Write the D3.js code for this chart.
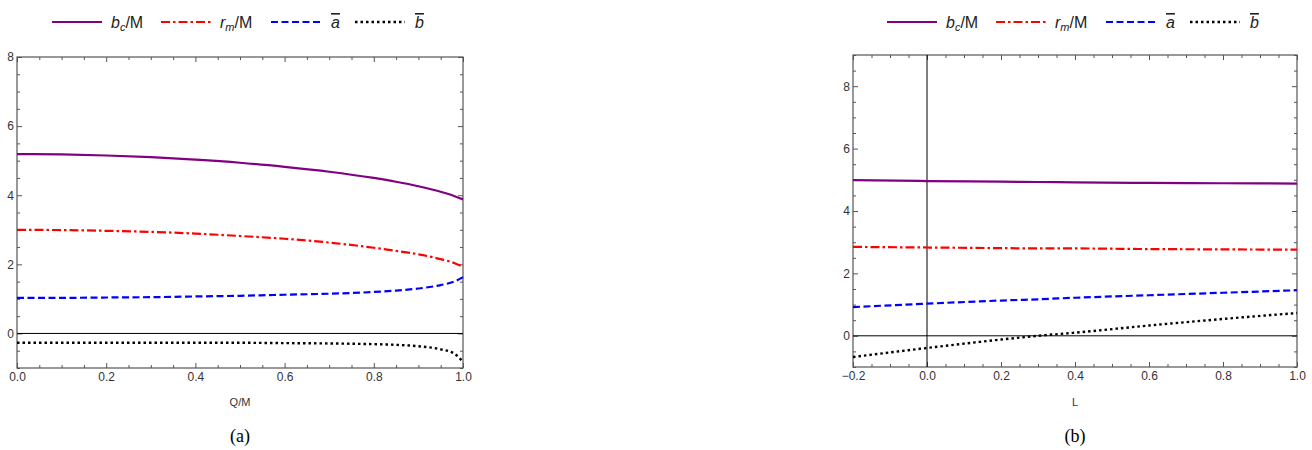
<!DOCTYPE html>
<html>
<head>
<meta charset="utf-8">
<script src="https://cdn.jsdelivr.net/npm/d3@7"></script>
<style>
  body { margin: 0; background: #fff; }
  svg text { font-family: "Liberation Sans", Arial, sans-serif; }
</style>
</head>
<body>
<div id="output"></div>
<script>
// panel (a): values against Q/M
var qVals = [0, 0.1, 0.2, 0.3, 0.4, 0.5, 0.6, 0.7, 0.8, 0.85, 0.9, 0.95, 0.98, 1.0];
var bcQ   = [5.19, 5.18, 5.15, 5.10, 5.03, 4.94, 4.82, 4.68, 4.50, 4.39, 4.26, 4.10, 3.98, 3.88];
var rmQ   = [3.00, 2.99, 2.97, 2.94, 2.89, 2.82, 2.74, 2.63, 2.48, 2.39, 2.29, 2.15, 2.04, 1.93];
var aQ    = [1.03, 1.03, 1.04, 1.05, 1.07, 1.09, 1.12, 1.15, 1.20, 1.24, 1.30, 1.40, 1.50, 1.63];
var bQ    = [-0.27, -0.27, -0.27, -0.27, -0.27, -0.27, -0.28, -0.29, -0.31, -0.33, -0.37, -0.46, -0.58, -0.82];

// panel (b): values against L
var lVals = [-0.2, 0, 0.2, 0.3, 0.4, 0.6, 0.8, 1.0];
var bcL   = [4.99, 4.96, 4.94, 4.93, 4.92, 4.90, 4.89, 4.88];
var rmL   = [2.85, 2.83, 2.81, 2.80, 2.80, 2.78, 2.77, 2.76];
var aL    = [0.92, 1.03, 1.13, 1.17, 1.22, 1.30, 1.38, 1.46];
var bL    = [-0.68, -0.39, -0.12, 0.0, 0.10, 0.33, 0.54, 0.73];

var xTicksA = [0, 0.2, 0.4, 0.6, 0.8, 1.0];
var yTicksA = [0, 2, 4, 6, 8];
var xTicksB = [-0.2, 0, 0.2, 0.4, 0.6, 0.8, 1.0];
var yTicksB = [0, 2, 4, 6, 8];

var w = 1312, h = 450;

var styles = [
    {key: "bc", color: "#800080", dash: null, width: 2.2},
    {key: "rm", color: "#ff0000", dash: "9,3,2.5,3", width: 2.2},
    {key: "a",  color: "#0000ff", dash: "7,3.5", width: 2.2},
    {key: "b",  color: "#000000", dash: "2.5,3", width: 2.4}
];

var svg = d3.select("#output").append("svg")
    .attr("width", w)
    .attr("height", h);

function range(a, b, s) {
    var out = [];
    for (var i = Math.round(a / s); i * s <= b + 1e-9; i++) out.push(+(i * s).toFixed(4));
    return out;
}

function panel(opt) {
    var x = d3.scaleLinear().domain(opt.xDomain).range(opt.xRange);
    var y = d3.scaleLinear().domain(opt.yDomain).range(opt.yRange);
    var g = svg.append("g");
    var fmt = d3.format(".1f");

    var x0 = opt.xRange[0], x1 = opt.xRange[1], y0 = opt.yRange[0], y1 = opt.yRange[1];
    var xMinor = range(opt.xDomain[0], opt.xDomain[1], 0.05).filter(function (v) {
        return opt.xTicks.every(function (t) { return Math.abs(t - v) > 1e-6; });
    });
    var yMinor = range(opt.yDomain[0], opt.yDomain[1], 0.5).filter(function (v) {
        return opt.yTicks.indexOf(v) < 0;
    });

    // axes (inward ticks) on all four sides
    var axes = [
        [d3.axisBottom(x).tickValues(opt.xTicks).tickSize(-5).tickPadding(4).tickFormat(fmt), "translate(0," + y0 + ")"],
        [d3.axisBottom(x).tickValues(xMinor).tickSize(-3).tickFormat(""), "translate(0," + y0 + ")"],
        [d3.axisTop(x).tickValues(opt.xTicks).tickSize(-5).tickFormat(""), "translate(0," + y1 + ")"],
        [d3.axisTop(x).tickValues(xMinor).tickSize(-3).tickFormat(""), "translate(0," + y1 + ")"],
        [d3.axisLeft(y).tickValues(opt.yTicks).tickSize(-5).tickPadding(3).tickFormat(d3.format("d")), "translate(" + x0 + ",0)"],
        [d3.axisLeft(y).tickValues(yMinor).tickSize(-3).tickFormat(""), "translate(" + x0 + ",0)"],
        [d3.axisRight(y).tickValues(opt.yTicks).tickSize(-5).tickFormat(""), "translate(" + x1 + ",0)"],
        [d3.axisRight(y).tickValues(yMinor).tickSize(-3).tickFormat(""), "translate(" + x1 + ",0)"]
    ];
    axes.forEach(function (a) {
        var ag = g.append("g").attr("transform", a[1]).call(a[0]);
        ag.select(".domain").remove();
        ag.selectAll("line").attr("stroke", "#555");
        ag.selectAll("text").attr("fill", "#333").style("font-size", "12px");
    });

    g.append("rect")
        .attr("x", x0).attr("y", y1)
        .attr("width", x1 - x0).attr("height", y0 - y1)
        .attr("fill", "none").attr("stroke", "#555").attr("stroke-width", 1.2);

    // zero lines
    g.append("line")
        .attr("x1", x0).attr("x2", x1)
        .attr("y1", y(0)).attr("y2", y(0))
        .attr("stroke", "#000").attr("stroke-width", 1);
    if (opt.xDomain[0] < 0) {
        g.append("line")
            .attr("x1", x(0)).attr("x2", x(0))
            .attr("y1", y0).attr("y2", y1)
            .attr("stroke", "#000").attr("stroke-width", 1);
    }

    var line = d3.line()
        .x(function (d) { return x(d[0]); })
        .y(function (d) { return y(d[1]); })
        .curve(d3.curveMonotoneX);

    styles.forEach(function (s, i) {
        var pts = opt.xs.map(function (v, j) { return [v, opt.series[i][j]]; });
        g.append("path")
            .datum(pts)
            .attr("d", line)
            .attr("fill", "none")
            .attr("stroke", s.color)
            .attr("stroke-width", s.width)
            .attr("stroke-dasharray", s.dash);
    });

    // axis label + caption
    var cx = (x0 + x1) / 2;
    g.append("text")
        .attr("x", cx).attr("y", 406)
        .attr("text-anchor", "middle")
        .attr("fill", "#333")
        .style("font-size", "11px")
        .text(opt.xLabel);
    g.append("text")
        .attr("x", cx).attr("y", 442)
        .attr("text-anchor", "middle")
        .style("font-family", "'Liberation Serif', 'DejaVu Serif', serif")
        .style("font-size", "18px")
        .text(opt.caption);

    // legend
    var lg = g.append("g").attr("transform", "translate(" + (cx - 188) + ",22)");
    var offs = [0, 109, 219, 303];
    var labels = [["b", "c", "/M"], ["r", "m", "/M"], ["a", null, null], ["b", null, null]];
    styles.forEach(function (s, i) {
        var it = lg.append("g").attr("transform", "translate(" + offs[i] + ",0)");
        it.append("line")
            .attr("x1", 0).attr("x2", 50)
            .attr("stroke", s.color)
            .attr("stroke-width", s.width)
            .attr("stroke-dasharray", s.dash);
        var t = it.append("text")
            .attr("x", i < 2 ? 59 : 60)
            .attr("y", 6)
            .attr("fill", "#222")
            .style("font-size", "16px");
        var main = t.append("tspan").style("font-style", "italic").text(labels[i][0]);
        if (labels[i][1]) {
            t.append("tspan").style("font-style", "italic").style("font-size", "11px")
                .attr("dy", 3).text(labels[i][1]);
            t.append("tspan").attr("dy", -3).text(labels[i][2]);
        } else {
            main.style("text-decoration", "overline");
        }
    });
}

panel({
    xDomain: [0, 1], xRange: [17, 463],
    yDomain: [-1, 8], yRange: [368, 57],
    xTicks: xTicksA, yTicks: yTicksA,
    xs: qVals, series: [bcQ, rmQ, aQ, bQ],
    xLabel: "Q/M", caption: "(a)"
});

panel({
    xDomain: [-0.2, 1], xRange: [853, 1297],
    yDomain: [-1, 9], yRange: [367, 55],
    xTicks: xTicksB, yTicks: yTicksB,
    xs: lVals, series: [bcL, rmL, aL, bL],
    xLabel: "L", caption: "(b)"
});
</script>
</body>
</html>
